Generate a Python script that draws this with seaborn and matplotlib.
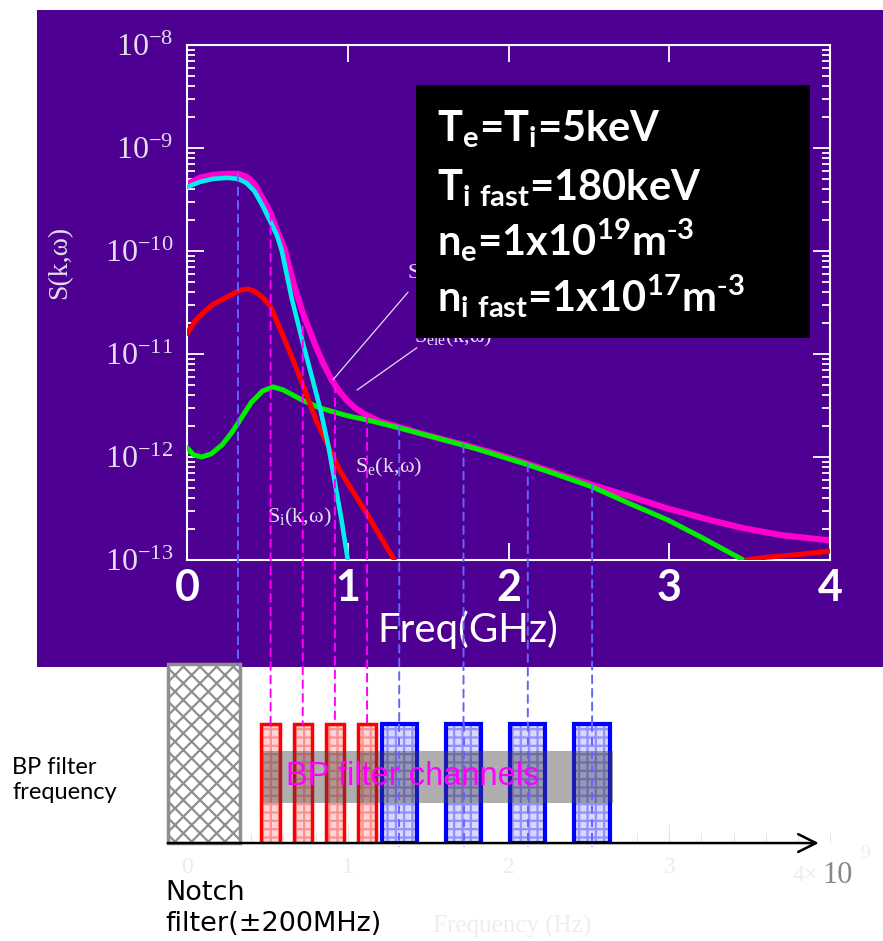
import numpy as np
import pandas as pd
import seaborn as sns
import matplotlib.pyplot as plt
from matplotlib.patches import Rectangle, ConnectionPatch
from matplotlib.ticker import NullLocator, NullFormatter, LogLocator

sns.set_style("ticks")
plt.rcParams['font.family'] = ['Liberation Serif', 'DejaVu Sans']
plt.rcParams['mathtext.default'] = 'regular'
plt.rcParams['hatch.linewidth'] = 1.6

PURPLE = '#4e0092'
PALE = '#e4ddf0'

# Spectra, frequency in GHz
freq_total = [0, 0.08, 0.16, 0.25, 0.32, 0.37, 0.42, 0.47, 0.52, 0.56, 0.61, 0.66, 0.72, 0.80,
              0.85, 0.90, 0.95, 1.0, 1.05, 1.1, 1.2, 1.32, 1.45, 1.57, 1.72, 1.9, 2.11, 2.3,
              2.52, 2.75, 2.99, 3.25, 3.46, 3.7, 4.0]
s_total = [4.47e-10, 5.13e-10, 5.50e-10, 5.62e-10, 5.62e-10, 5.25e-10, 4.47e-10, 3.24e-10,
           2.34e-10, 1.58e-10, 1.02e-10, 5.01e-11, 2.51e-11, 1.20e-11, 7.94e-12, 5.62e-12,
           4.27e-12, 3.47e-12, 2.95e-12, 2.63e-12, 2.21e-12, 1.95e-12, 1.70e-12, 1.51e-12,
           1.32e-12, 1.10e-12, 8.71e-13, 6.92e-13, 5.37e-13, 4.17e-13, 3.16e-13, 2.45e-13,
           2.04e-13, 1.74e-13, 1.55e-13]

freq_ion = [0, 0.08, 0.16, 0.25, 0.32, 0.37, 0.42, 0.47, 0.52, 0.56, 0.59, 0.65, 0.72, 0.78,
            0.83, 0.88, 0.92, 0.96, 1.0]
s_ion = [4.17e-10, 4.68e-10, 5.01e-10, 5.13e-10, 5.01e-10, 4.57e-10, 3.80e-10, 2.75e-10,
         1.91e-10, 1.41e-10, 1.0e-10, 3.55e-11, 1.29e-11, 5.75e-12, 2.88e-12, 1.26e-12,
         5.62e-13, 2.51e-13, 1.0e-13]

freq_e = [0, 0.05, 0.10, 0.16, 0.22, 0.28, 0.33, 0.38, 0.42, 0.47, 0.52, 0.58, 0.66, 0.72,
          0.81, 0.95, 1.05, 1.13, 1.21, 1.29]
s_e = [1.58e-11, 2.09e-11, 2.51e-11, 3.02e-11, 3.39e-11, 3.80e-11, 4.17e-11, 4.27e-11,
       4.07e-11, 3.55e-11, 2.88e-11, 1.74e-11, 8.71e-12, 5.01e-12, 2.14e-12, 7.41e-13,
       4.17e-13, 2.63e-13, 1.62e-13, 1.0e-13]
freq_e_tail = [3.48, 3.6, 3.8, 4.0]
s_e_tail = [1.0e-13, 1.06e-13, 1.13e-13, 1.22e-13]

freq_ele = [0, 0.04, 0.09, 0.15, 0.22, 0.28, 0.33, 0.40, 0.47, 0.535, 0.60, 0.72, 0.82, 0.91,
            1.0, 1.12, 1.30, 1.57, 1.8, 2.11, 2.3, 2.52, 2.75, 2.99, 3.2, 3.46]
s_ele = [1.23e-12, 1.05e-12, 1.0e-12, 1.07e-12, 1.32e-12, 1.74e-12, 2.29e-12, 3.39e-12,
         4.37e-12, 4.79e-12, 4.47e-12, 3.55e-12, 3.02e-12, 2.75e-12, 2.51e-12, 2.29e-12,
         1.95e-12, 1.51e-12, 1.20e-12, 8.51e-13, 6.76e-13, 5.13e-13, 3.55e-13, 2.45e-13,
         1.66e-13, 1.0e-13]

# Band-pass filter channels (GHz)
red_centers = [0.52, 0.72, 0.92, 1.12]
blue_centers = [1.32, 1.72, 2.12, 2.52]
red_width = 0.115
blue_width = 0.22
notch_edges = [-0.12, 0.33]
notch_marker = 0.317

yticks = [1e-13, 1e-12, 1e-11, 1e-10, 1e-9, 1e-8]
ytick_labels = [r'$10^{-13}$', r'$10^{-12}$', r'$10^{-11}$', r'$10^{-10}$', r'$10^{-9}$', r'$10^{-8}$']
xticks = [0, 1, 2, 3, 4]

params = [r'T$_e$=T$_i$=5keV', r'T$_{i\ fast}$=180keV',
          r'n$_e$=1x10$^{19}$m$^{\text{-}3}$', r'n$_{i\ fast}$=1x10$^{17}$m$^{\text{-}3}$']

fig = plt.figure(figsize=(8.83, 9.41), dpi=100)
fig.add_artist(Rectangle((0.0419, 0.2912), 0.9581, 0.6982, transform=fig.transFigure,
                         facecolor=PURPLE, edgecolor='none', zorder=-5))

ax1 = fig.add_axes([0.2118, 0.4049, 0.7282, 0.5473])
ax1.patch.set_alpha(0)
ax1.set_yscale('log')

sns.lineplot(x=freq_total, y=s_total, ax=ax1, color='#ff00d0', lw=4.4, sort=False, estimator=None, zorder=2)
sns.lineplot(x=freq_ele, y=s_ele, ax=ax1, color='#00ee00', lw=3.6, sort=False, estimator=None, zorder=3)
sns.lineplot(x=freq_e, y=s_e, ax=ax1, color='#ff0000', lw=3.6, sort=False, estimator=None, zorder=4)
sns.lineplot(x=freq_e_tail, y=s_e_tail, ax=ax1, color='#ff0000', lw=3.6, sort=False, estimator=None, zorder=4)
sns.lineplot(x=freq_ion, y=s_ion, ax=ax1, color='#00f0f0', lw=3.3, sort=False, estimator=None, zorder=5)

ax1.set_xlim(0, 4)
ax1.set_ylim(1e-13, 1e-8)
ax1.set_xticks(xticks, labels=[str(t) for t in xticks], fontsize=31, fontweight='bold',
               family='Lato', color='white')
ax1.set_yticks(yticks, labels=ytick_labels, fontsize=23, family='Liberation Serif', color=PALE)
ax1.yaxis.set_minor_locator(LogLocator(base=10, subs=np.arange(2, 10)))
ax1.yaxis.set_minor_formatter(NullFormatter())
ax1.xaxis.set_minor_locator(NullLocator())
ax1.tick_params(which='both', direction='in', top=True, right=True, bottom=True, left=True,
                color='white', width=1.3)
ax1.tick_params(which='major', length=12)
ax1.tick_params(which='minor', length=6)
ax1.tick_params(axis='y', pad=10)
ax1.tick_params(axis='x', pad=6)
for sp in ax1.spines.values():
    sp.set_color('white')
    sp.set_linewidth(1.5)
ax1.set_xlabel('')
ax1.set_ylabel('')
ax1.text(0.437, -0.136, 'Freq(GHz)', transform=ax1.transAxes, ha='center', va='center',
         fontsize=29, family='Lato', color='white')
ax1.text(-0.1975, 0.577, 'S(k,ω)', transform=ax1.transAxes, ha='center', va='center',
         rotation=90, fontsize=20, family='Liberation Serif', color=PALE)

# curve labels with pointer lines (the last two sit partly under the parameter box)
ax1.text(1.045, 7.9e-13, r'S$_e$(k,ω)', ha='left', va='center', fontsize=16, color=PALE, zorder=6)
ax1.text(0.50, 2.6e-13, r'S$_i$(k,ω)', ha='left', va='center', fontsize=16, color=PALE, zorder=6)
ax1.text(1.37, 6.0e-11, r'S$_{total}$(k,ω)', ha='left', va='center', fontsize=16, color=PALE, zorder=6)
ax1.text(1.41, 1.45e-11, r'S$_{ele}$(k,ω)', ha='left', va='center', fontsize=16, color=PALE, zorder=6)
ax1.plot([0.908, 1.375], [5.62e-12, 3.98e-11], color=PALE, lw=0.9, zorder=6)
ax1.plot([1.058, 1.43], [4.47e-12, 1.15e-11], color=PALE, lw=0.9, zorder=6)

# parameter box
ax1.add_patch(Rectangle((0.356, 0.431), 0.613, 0.491, transform=ax1.transAxes,
                        facecolor='black', edgecolor='none', zorder=8))
for txt, yb in zip(params, [0.812, 0.699, 0.592, 0.482]):
    ax1.text(0.389, yb, txt, transform=ax1.transAxes, ha='left', va='baseline',
             fontsize=30, family='Lato', fontweight='bold', color='white', zorder=9)

# lower schematic of filter bank
ax2 = fig.add_axes([0.2118, 0.1041, 0.7282, 0.1902])
ax2.patch.set_alpha(0)
ax2.set_xlim(0, 4)
ax2.set_ylim(0, 1)
for sp in ax2.spines.values():
    sp.set_visible(False)
ax2.set_yticks([])
ax2.set_xticks([0, 1, 2, 3], labels=['0', '1', '2', '3'], fontsize=17,
               family='Liberation Serif', color='#ececec')
ax2.set_xticks(np.arange(0, 4.01, 0.2), minor=True)
ax2.tick_params(which='both', direction='in', color='#e2e2e2', bottom=True, left=False, pad=10)
ax2.tick_params(which='major', length=14)
ax2.tick_params(which='minor', length=7)

bar_top = 0.665
notch = ax2.bar(notch_edges[0], 1.0, width=notch_edges[1] - notch_edges[0], align='edge',
                facecolor='white', edgecolor='#8e8e8e', hatch='xx', lw=2.5, zorder=2)
for p in notch:
    p.set_clip_on(False)
ax2.bar(red_centers, bar_top, width=red_width, facecolor='#ffd4d4', edgecolor='#ff9090',
        hatch='++', lw=0, zorder=2)
ax2.bar(red_centers, bar_top, width=red_width, fill=False, edgecolor='#ff0000', lw=2.5, zorder=3)
ax2.bar(blue_centers, bar_top, width=blue_width, facecolor='#d8d8ff', edgecolor='#9090ff',
        hatch='++', lw=0, zorder=2)
ax2.bar(blue_centers, bar_top, width=blue_width, fill=False, edgecolor='#0000ff', lw=3, zorder=3)

ax2.add_patch(Rectangle((0.473, 0.223), 2.177, 0.291, facecolor='#404040', alpha=0.42,
                        edgecolor='none', zorder=4))
ax2.text(1.406, 0.369, 'BP filter channels', ha='center', va='center', fontsize=23.5,
         family='Liberation Sans', color='#ff00ff', zorder=6)

ax2.annotate('', xy=(3.93, 0), xytext=(-0.12, 0), annotation_clip=False,
             arrowprops=dict(arrowstyle='->', color='black', lw=1.8, mutation_scale=32,
                             shrinkA=0, shrinkB=0), zorder=5)

for c in blue_centers:
    ax2.plot([c, c], [bar_top, -0.02], color='#6464ff', lw=1.4, ls=(0, (4, 3)),
             clip_on=False, zorder=5)

# dashed guide lines from the total spectrum down to the filters
log_total = np.log10(s_total)
guides = [(notch_marker, '#6464ff', 1.0)]
guides += [(c, '#ff00ff', bar_top) for c in red_centers]
guides += [(c, '#6464ff', bar_top) for c in blue_centers]
for c, col, end in guides:
    y0 = 10 ** np.interp(c, freq_total, log_total)
    con = ConnectionPatch(xyA=(c, y0), coordsA=ax1.transData, xyB=(c, end),
                          coordsB=ax2.transData, color=col, lw=1.4, ls=(0, (4, 3)), zorder=10)
    fig.add_artist(con)

fig.text(0.0136, 0.171, 'BP filter\nfrequency', ha='left', va='center', fontsize=17,
         family='Lato', color='black', linespacing=1.25)
fig.text(0.187, 0.0648, 'Notch\nfilter(±200MHz)', ha='left', va='top', fontsize=19.5,
         family='DejaVu Sans', color='black', linespacing=1.25)
fig.text(0.58, 0.015, 'Frequency (Hz)', ha='center', va='center', fontsize=18,
         family='Liberation Serif', color='#eeeeee')
fig.text(0.912, 0.07, '4×', ha='center', va='center', fontsize=17,
         family='Liberation Serif', color='#eeeeee')
fig.text(0.948, 0.07, '10', ha='center', va='center', fontsize=22,
         family='Liberation Serif', color='#888888')
fig.text(0.98, 0.093, '9', ha='center', va='center', fontsize=14,
         family='Liberation Serif', color='#eeeeee')

fig.savefig('out.png', dpi=100)
